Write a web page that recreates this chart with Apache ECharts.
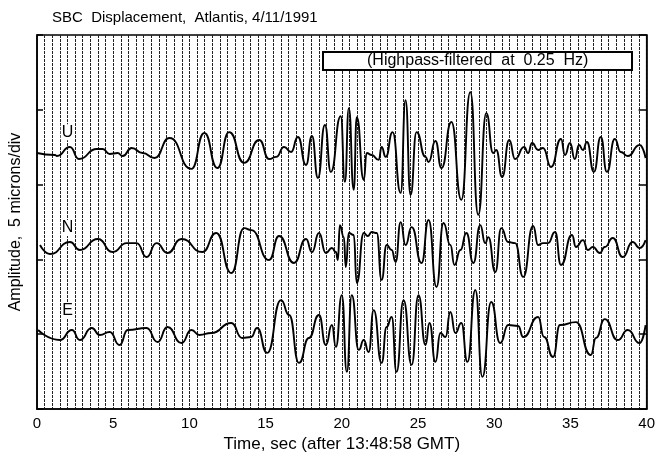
<!DOCTYPE html>
<html>
<head>
<meta charset="utf-8">
<script src="https://cdn.jsdelivr.net/npm/echarts@6/dist/echarts.min.js"></script>
<style>html,body{margin:0;padding:0;background:#fff}#c{width:658px;height:458px}</style>
</head>
<body>
<div id="c"></div>
<script>
// ---- data (time in sec, displacement in microns relative to each trace's baseline) ----
const uTime = [0,1.18,1.31,2.16,2.75,3.92,4.31,4.77,5.29,5.62,6.21,6.93,7.71,8.69,10.13,10.98,11.83,12.61,13.59,14.58,15.23,15.69,16.21,16.67,17.12,17.65,18.04,18.43,18.89,19.28,19.93,20.2,20.46,20.78,20.98,21.44,21.63,21.96,22.42,22.61,22.88,23.33,23.86,24.18,24.51,24.9,25.49,25.69,26.14,26.54,27.19,27.84,28.43,28.95,29.48,29.93,30.13,30.52,30.98,31.37,31.96,32.22,32.48,32.88,33.2,33.73,34.38,34.64,34.97,35.29,35.56,35.82,36.08,36.54,36.99,37.39,37.91,38.3,38.76,39.54,39.93];
const uAmp = [0.11,-0.02,-0.09,0.51,-0.29,0.38,0.38,0.05,0.11,-0.09,0.45,0.11,-0.22,1.11,-0.95,1.45,-0.89,1.51,-0.55,0.98,-0.29,-0.15,0.51,0.18,1.18,-0.69,1.25,-1.55,1.98,-1.15,2.58,-1.82,3.11,-2.35,2.51,-1.69,0.11,-0.02,-0.35,0.51,-0.15,1.51,-2.55,3.65,-2.69,1.51,-0.15,-0.49,0.91,-0.89,2.18,-3.02,4.18,-4.02,2.78,0.11,0.31,-1.49,0.98,-0.29,0.51,0.11,0.78,0.31,0.45,-0.82,1.05,-0.02,0.78,-0.29,0.65,0.31,0.85,-1.15,1.18,-1.15,1.05,0.18,-0.09,0.65,-0.22];

const nTime = [0.2,0.85,2.16,2.81,3.99,4.97,5.88,6.54,7.19,7.84,8.56,9.48,10.85,11.76,12.75,13.59,14.05,15.23,15.88,16.86,17.65,18.04,18.5,18.95,19.35,19.61,19.74,19.87,20.13,20.26,20.46,20.78,20.98,21.44,21.7,21.96,22.29,22.61,22.94,23.27,23.53,23.86,24.18,24.58,25.23,25.69,26.21,26.67,27.12,27.39,27.78,28.17,28.63,29.08,29.41,29.61,30.07,30.46,30.92,31.37,31.9,32.55,32.88,33.2,33.53,33.99,34.38,35.1,35.36,35.82,36.14,36.47,36.93,37.25,37.78,38.43,39.08,39.54,39.93];
const nAmp = [0.36,-0.24,0.56,0.03,0.76,-0.11,0.49,0.49,-0.44,0.49,-0.17,0.76,-0.11,1.16,-1.51,1.49,1.36,-0.64,0.96,-0.84,0.76,-0.11,1.16,-0.17,0.16,-0.11,-0.64,1.69,0.89,-1.11,1.16,1.03,-2.17,1.16,0.96,1.23,1.16,-1.97,0.36,0.03,-0.77,1.89,0.36,1.56,-0.84,2.03,-2.44,1.83,0.36,-0.97,0.03,1.16,-0.84,1.69,0.49,0.89,-1.44,1.49,0.56,0.49,-1.77,1.63,0.36,0.49,0.49,1.23,-0.97,1.03,0.23,0.69,0.03,0.23,-0.17,0.23,0.83,-0.44,0.56,0.16,0.69];

const eTime = [0.07,1.5,2.29,2.81,3.59,4.12,4.77,5.42,5.95,7.19,7.91,8.56,9.48,10.13,10.65,11.44,12.75,13.46,14.05,14.44,15.1,16.01,16.54,17.19,17.84,18.5,18.95,19.35,19.61,20.0,20.33,20.65,21.11,21.44,21.76,22.09,22.61,22.94,23.27,23.59,24.05,24.58,25.03,25.49,25.75,26.14,26.47,26.8,27.12,27.45,27.84,28.24,28.76,29.22,29.8,30.39,30.92,31.57,31.9,32.88,33.27,33.86,34.31,35.36,36.34,36.67,37.25,38.1,38.76,39.54,39.93];
const eAmp = [0.18,-0.49,0.18,-0.49,0.31,-0.15,0.05,-0.82,0.18,0.31,-0.62,0.38,-0.69,0.18,-0.15,-0.02,0.65,-0.35,-0.29,0.31,-1.35,2.18,1.18,-2.02,-0.35,1.18,-0.82,0.51,-0.95,2.51,-2.62,2.51,-1.15,-0.49,-1.29,1.51,-2.02,0.38,1.05,-2.62,2.18,-2.15,2.51,-0.82,0.65,-1.95,-0.02,-0.29,1.38,-0.02,0.65,-1.95,2.85,-2.95,2.05,-0.69,0.51,0.45,-0.29,1.05,-0.29,-1.62,0.51,0.71,-1.49,-0.35,0.91,-0.49,0.18,-0.69,0.51];

const traceNames = ['U', 'N', 'E'];
const titleText = 'SBC  Displacement,  Atlantis, 4/11/1991';
const noteText = '(Highpass-filtered  at  0.25  Hz)';
const xAxisTitle = 'Time, sec (after 13:48:58 GMT)';
const yAxisTitle = 'Amplitude,  5 microns/div';

// layout constants (plot position of each trace baseline on the 0..25 micron axis)
const baseline = [17.0, 10.6, 5.1];
const labelTime = 2.0, labelLift = 1.5;

const traces = [[uTime, uAmp], [nTime, nAmp], [eTime, eAmp]];
const FONT = '"Liberation Sans", Arial, Helvetica, sans-serif';

const series = traces.map(([t, a], i) => ({
  type: 'line',
  data: t.map((tv, k) => [tv, a[k] + baseline[i]]),
  showSymbol: false,
  smooth: 0.55,
  smoothMonotone: 'x',
  lineStyle: { color: '#000', width: 1.9 },
  silent: true,
  z: 3
}));

const chart = echarts.init(document.getElementById('c'), null, { renderer: 'canvas' });
chart.setOption({
  animation: false,
  backgroundColor: '#fff',
  textStyle: { fontFamily: FONT },
  title: [
    { text: titleText, left: 47, top: 5, textStyle: { fontSize: 15, fontWeight: 'normal', color: '#000', fontFamily: FONT } },
    { text: noteText, left: 323, top: 52, padding: [1, 44, 1, 44], borderColor: '#000', borderWidth: 2, backgroundColor: '#fff',
      textStyle: { fontSize: 16, fontWeight: 'normal', color: '#000', fontFamily: FONT }, z: 10 }
  ],
  grid: { left: 37, right: 9, top: 35, bottom: 49, show: true, borderColor: '#000', borderWidth: 1.5, backgroundColor: 'transparent' },
  xAxis: {
    type: 'value', min: 0, max: 40, interval: 5,
    name: xAxisTitle, nameLocation: 'middle', nameGap: 24,
    nameTextStyle: { fontSize: 17, color: '#000', fontFamily: FONT },
    axisLine: { show: true, lineStyle: { color: '#000', width: 1.5 } },
    axisTick: { show: false },
    axisLabel: { fontSize: 15, color: '#000', margin: 7, fontFamily: FONT },
    splitLine: { show: true, lineStyle: { color: '#222', width: 1, type: [3, 1] } },
    minorTick: { show: false, splitNumber: 10 },
    minorSplitLine: { show: true, lineStyle: { color: '#222', width: 1, type: [3, 1] } }
  },
  yAxis: [
    {
      type: 'value', min: 0, max: 25, interval: 5,
      name: yAxisTitle, nameLocation: 'middle', nameGap: 13,
      nameTextStyle: { fontSize: 16, color: '#000', fontFamily: FONT },
      axisLine: { show: true, lineStyle: { color: '#000', width: 1.5 } },
      axisTick: { show: true, inside: true, length: 6, lineStyle: { color: '#000', width: 1.5 } },
      axisLabel: { show: false },
      splitLine: { show: false }
    },
    {
      type: 'value', min: 0, max: 25, interval: 5, position: 'right',
      axisLine: { show: true, lineStyle: { color: '#000', width: 1.5 } },
      axisTick: { show: true, inside: true, length: 8, lineStyle: { color: '#000', width: 1.5 } },
      axisLabel: { show: false },
      splitLine: { show: false }
    }
  ],
  series: series
});

// trace name labels placed through the chart's own coordinate system
chart.setOption({
  graphic: traceNames.map((n, i) => {
    const p = chart.convertToPixel({ gridIndex: 0 }, [labelTime, baseline[i] + labelLift]);
    return {
      type: 'text', x: p[0], y: p[1], z: 20,
      style: { text: n, fill: '#000', font: '16px ' + FONT, align: 'center', verticalAlign: 'middle',
               backgroundColor: '#fff', padding: [0, 1] }
    };
  })
});
</script>
</body>
</html>
